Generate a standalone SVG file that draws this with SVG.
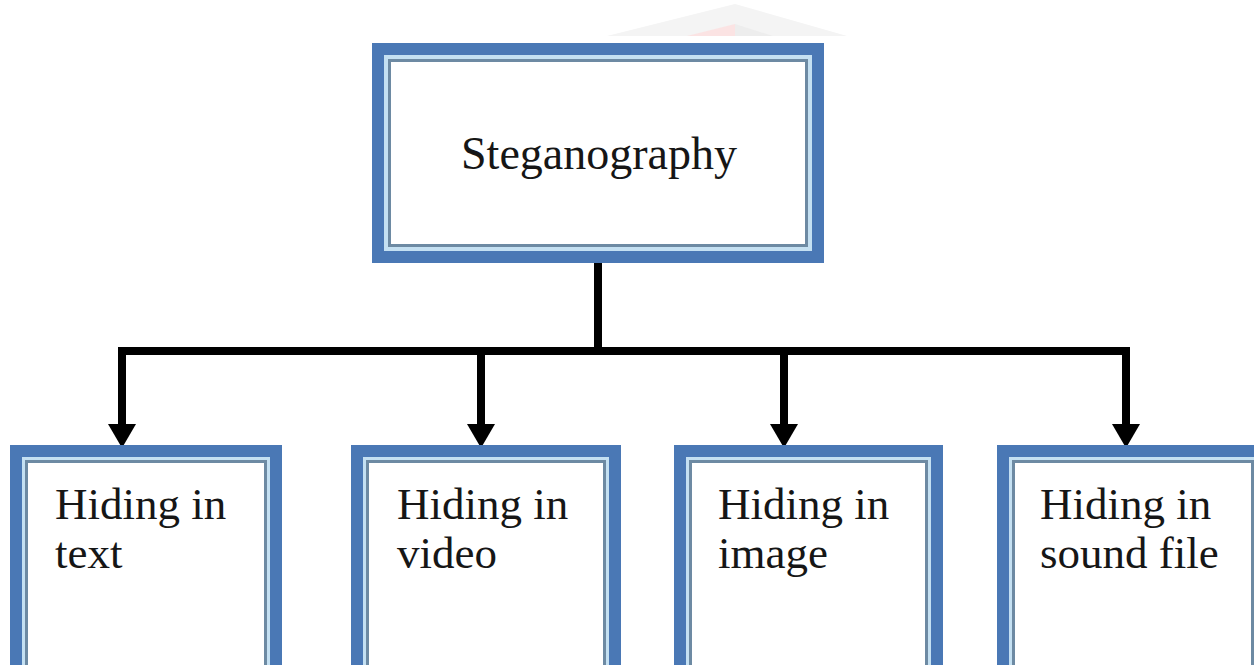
<svg xmlns="http://www.w3.org/2000/svg" width="1254" height="665" viewBox="0 0 1254 665">
  <defs>
    <style>
      .outer { fill: #4a78b5; }
      .light { fill: #c4e0f2; }
      .inner { fill: #6d8aa3; }
      .paper { fill: #ffffff; }
      .lbl { font-family: "Liberation Serif", "DejaVu Serif", serif; font-size: 45px; fill: #161616; }
      .title { font-family: "Liberation Serif", "DejaVu Serif", serif; font-size: 46px; fill: #161616; }
      .conn { stroke: #000; stroke-width: 8; fill: none; }
    </style>
    <marker id="arrow" viewBox="0 0 24 28" refX="6" refY="14" markerWidth="24" markerHeight="28" markerUnits="userSpaceOnUse" orient="auto">
      <path d="M0,0 L24,14 L0,28 Z" fill="#000"/>
    </marker>
  </defs>
  <rect width="1254" height="665" fill="#ffffff"/>

  <!-- faint watermark -->
  <g id="watermark" opacity="0.9">
    <polygon points="607,36 735,4 847,36" fill="#f3f3f3"/>
    <polygon points="687,36 735,24 735,36" fill="#fbe0e0"/>
    <polygon points="735,24 773,36 735,36" fill="#ececec"/>
  </g>

  <g id="connectors">
    <path class="conn" d="M598,262 V351"/>
    <path class="conn" d="M122,351 H1126" stroke-linecap="square"/>
    <path class="conn" d="M122,351 V430" marker-end="url(#arrow)"/>
    <path class="conn" d="M481,351 V430" marker-end="url(#arrow)"/>
    <path class="conn" d="M784,351 V430" marker-end="url(#arrow)"/>
    <path class="conn" d="M1126,351 V430" marker-end="url(#arrow)"/>
  </g>

  <g id="steganography">
    <rect class="outer" x="372" y="43" width="452" height="220"/>
    <rect class="light" x="384" y="55" width="428" height="196"/>
    <rect class="inner" x="388" y="59" width="420" height="188"/>
    <rect class="paper" x="391" y="62" width="414" height="182"/>
    <text class="title" x="599" y="169" text-anchor="middle">Steganography</text>
  </g>

  <g id="hiding-text">
    <rect class="outer" x="10" y="445" width="272" height="240"/>
    <rect class="light" x="22" y="457" width="248" height="216"/>
    <rect class="inner" x="25" y="460" width="242" height="210"/>
    <rect class="paper" x="28" y="463" width="236" height="204"/>
    <text class="lbl" x="55" y="519">Hiding in</text>
    <text class="lbl" x="55" y="568">text</text>
  </g>

  <g id="hiding-video">
    <rect class="outer" x="351" y="445" width="270" height="240"/>
    <rect class="light" x="363" y="457" width="246" height="216"/>
    <rect class="inner" x="366" y="460" width="240" height="210"/>
    <rect class="paper" x="369" y="463" width="234" height="204"/>
    <text class="lbl" x="397" y="519">Hiding in</text>
    <text class="lbl" x="397" y="568">video</text>
  </g>

  <g id="hiding-image">
    <rect class="outer" x="674" y="445" width="269" height="240"/>
    <rect class="light" x="686" y="457" width="245" height="216"/>
    <rect class="inner" x="689" y="460" width="239" height="210"/>
    <rect class="paper" x="692" y="463" width="233" height="204"/>
    <text class="lbl" x="718" y="519">Hiding in</text>
    <text class="lbl" x="718" y="568">image</text>
  </g>

  <g id="hiding-sound">
    <rect class="outer" x="997" y="445" width="272" height="240"/>
    <rect class="light" x="1009" y="457" width="248" height="216"/>
    <rect class="inner" x="1012" y="460" width="242" height="210"/>
    <rect class="paper" x="1015" y="463" width="236" height="204"/>
    <text class="lbl" x="1040" y="519">Hiding in</text>
    <text class="lbl" x="1040" y="568">sound file</text>
  </g>
</svg>
